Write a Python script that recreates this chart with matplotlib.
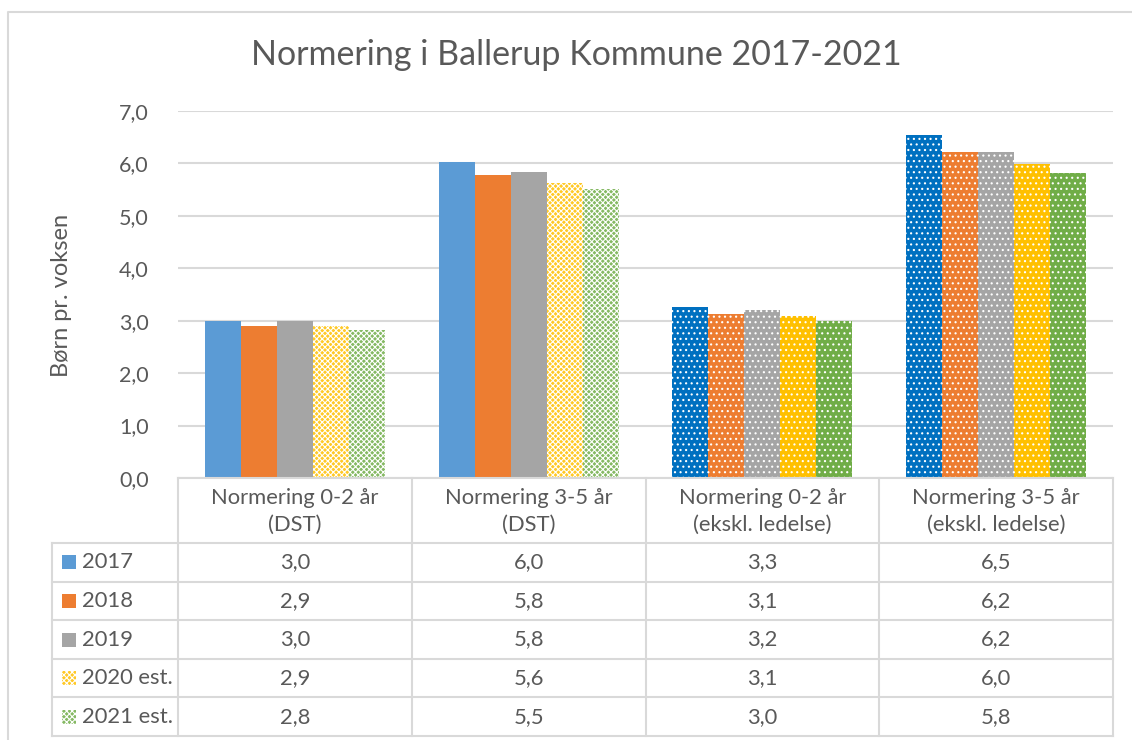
import numpy as np
import matplotlib
matplotlib.use("Agg")
import matplotlib.pyplot as plt
from matplotlib.patches import Rectangle
from matplotlib.lines import Line2D
from matplotlib.transforms import blended_transform_factory

# data
categories = ["Normering 0-2 år\n(DST)", "Normering 3-5 år\n(DST)",
              "Normering 0-2 år\n(ekskl. ledelse)", "Normering 3-5 år\n(ekskl. ledelse)"]
series = ["2017", "2018", "2019", "2020 est.", "2021 est."]
v2017 = [3.00, 6.03, 3.26, 6.54]
v2018 = [2.90, 5.77, 3.13, 6.21]
v2019 = [3.00, 5.83, 3.20, 6.21]
v2020 = [2.90, 5.63, 3.09, 5.99]
v2021 = [2.83, 5.52, 2.99, 5.81]
yticks = [0, 1, 2, 3, 4, 5, 6, 7]
title = "Normering i Ballerup Kommune 2017-2021"
ylabel = "Børn pr. voksen"

values = [v2017, v2018, v2019, v2020, v2021]

# styles
light_cols = ["#5B9BD5", "#ED7D31", "#A5A5A5", "#FFC000", "#70AD47"]
dark_cols = ["#0070C0", "#ED7D31", "#A5A5A5", "#FFC000", "#70AD47"]
checkered = [False, False, False, True, True]
txt_col = "#595959"
line_col = "#D9D9D9"

plt.rcParams['font.family'] = ['Lato', 'DejaVu Sans']
plt.rcParams['hatch.linewidth'] = 0.8

W, H = 1132, 740
fig = plt.figure(figsize=(W / 100, H / 100), dpi=100)


def fx(x):
    return x / W


def fy(y):
    return 1 - y / H


# plot area in pixels
left, right, top, bottom = 178, 1113, 111, 478
ax = fig.add_axes([fx(left), fy(bottom), fx(right - left), fy(top) - fy(bottom)])


def blend(c, a):
    c = np.array(matplotlib.colors.to_rgb(c))
    return tuple(c * a + (1 - a))


def style_bar(p, s, g):
    if g >= 2:
        p.set_facecolor(dark_cols[s])
        p.set_edgecolor("white")
        p.set_hatch("...")
    elif checkered[s]:
        p.set_facecolor(blend(light_cols[s], 0.85))
        p.set_edgecolor("white")
        p.set_hatch("xxxxxx")
    else:
        p.set_facecolor(light_cols[s])
        p.set_edgecolor(light_cols[s])
    p.set_linewidth(0)


x = np.arange(len(categories))
bw = 0.154
for s, vals in enumerate(values):
    bars = ax.bar(x + (s - 2) * bw, vals, bw, zorder=3)
    for g, p in enumerate(bars.patches):
        style_bar(p, s, g)

ax.set_xlim(-0.5, len(categories) - 0.5)
ax.set_ylim(0, 7)
ax.set_yticks(yticks)
ax.set_yticklabels([f"{t:.1f}".replace(".", ",") for t in yticks],
                   fontsize=15.5, color=txt_col)
ax.tick_params(axis="y", length=0, pad=21)
ax.set_xticks([])
ax.grid(axis="y", color=line_col, linewidth=1.5, zorder=0)
ax.set_axisbelow(True)
for sp in ax.spines.values():
    sp.set_visible(False)

fig.text(fx(61), fy(295), ylabel, rotation=90, ha="center", va="center",
         fontsize=17, color=txt_col)
fig.text(fx(576), fy(55), title, ha="center", va="center", fontsize=24.5,
         color=txt_col)

# data table under the chart
bt = blended_transform_factory(ax.transData, fig.transFigure)
head_bot = 543
row_h = 38.6
tab_bot = head_bot + row_h * len(series)
leg_left = 52
fs = 15.8


def hline(x0, x1, y):
    fig.add_artist(Line2D([fx(x0), fx(x1)], [fy(y), fy(y)], color=line_col,
                          linewidth=1.5, transform=fig.transFigure))


def vline(xp, y0, y1):
    fig.add_artist(Line2D([fx(xp), fx(xp)], [fy(y0), fy(y1)], color=line_col,
                          linewidth=1.5, transform=fig.transFigure))


hline(left, right, bottom)
for r in range(len(series) + 1):
    hline(leg_left, right, head_bot + r * row_h)
col_edges = [ax.transData.transform((g - 0.5, 0))[0] for g in range(len(categories) + 1)]
for ce in col_edges:
    vline(ce, bottom, tab_bot)
vline(leg_left, head_bot, tab_bot)

for g, cat in enumerate(categories):
    fig.text(x[g], fy((bottom + head_bot) / 2 + 1), cat, transform=bt, ha="center",
             va="center", fontsize=fs, color=txt_col, linespacing=1.4)

for s, name in enumerate(series):
    yc = head_bot + (s + 0.5) * row_h
    p = Rectangle((fx(62), fy(yc + 7)), fx(14), fy(yc - 7) - fy(yc + 7),
                  transform=fig.transFigure)
    style_bar(p, s, 0)
    fig.add_artist(p)
    fig.text(fx(82), fy(yc), name, ha="left", va="center", fontsize=fs,
             color=txt_col)
    for g in range(len(categories)):
        fig.text(x[g], fy(yc), f"{values[s][g]:.1f}".replace(".", ","),
                 transform=bt, ha="center", va="center", fontsize=fs,
                 color=txt_col)

# outer chart border
fig.add_artist(Line2D([fx(8), fx(8), fx(W + 5)], [fy(H + 5), fy(12), fy(12)],
                      color=line_col, linewidth=1.5, transform=fig.transFigure))

fig.savefig("out.png", dpi=100)
